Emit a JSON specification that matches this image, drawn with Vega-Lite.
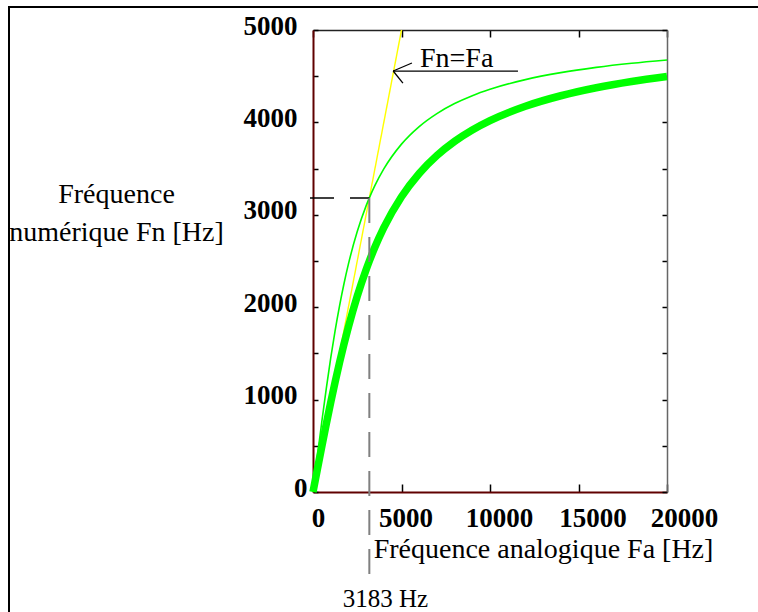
{
  "$schema": "https://vega.github.io/schema/vega-lite/v6.json",
  "width": 354,
  "height": 462,
  "autosize": {"type": "none"},
  "padding": {"left": 313, "top": 30, "right": 91, "bottom": 120},
  "background": "white",
  "config": {"view": {"stroke": null}, "axis": {"grid": false}},
  "datasets": {
    "identity": [{"fa": 0, "fn": 0}, {"fa": 5000, "fn": 5000}],
    "thin": [
      {"fa": 0, "fn": 0}, {"fa": 250, "fn": 387.4}, {"fa": 500, "fn": 763.7}, {"fa": 750, "fn": 1118.3},
      {"fa": 1000, "fn": 1448.4}, {"fa": 1250, "fn": 1747.2}, {"fa": 1500, "fn": 2015.3}, {"fa": 1750, "fn": 2253.9},
      {"fa": 2000, "fn": 2465.5}, {"fa": 2500, "fn": 2818.4}, {"fa": 3000, "fn": 3096.3}, {"fa": 3183, "fn": 3183},
      {"fa": 3500, "fn": 3317.5}, {"fa": 4000, "fn": 3496.3}, {"fa": 5000, "fn": 3764.8}, {"fa": 6000, "fn": 3954.9},
      {"fa": 7000, "fn": 4095.7}, {"fa": 8000, "fn": 4203.8}, {"fa": 9000, "fn": 4289.2}, {"fa": 10000, "fn": 4358.2},
      {"fa": 12000, "fn": 4463.0}, {"fa": 14000, "fn": 4538.6}, {"fa": 16000, "fn": 4595.6}, {"fa": 18000, "fn": 4640.1},
      {"fa": 20000, "fn": 4675.8}
    ],
    "thick": [
      {"fa": 0, "fn": 0}, {"fa": 250, "fn": 249.5}, {"fa": 500, "fn": 496.0}, {"fa": 750, "fn": 736.6},
      {"fa": 1000, "fn": 969.5}, {"fa": 1250, "fn": 1191.1}, {"fa": 1500, "fn": 1401.8}, {"fa": 2000, "fn": 1785.7},
      {"fa": 2500, "fn": 2119.2}, {"fa": 3000, "fn": 2405.8}, {"fa": 3183, "fn": 2500}, {"fa": 3500, "fn": 2650.8},
      {"fa": 4000, "fn": 2860.5}, {"fa": 5000, "fn": 3195.5}, {"fa": 6000, "fn": 3447.4}, {"fa": 7000, "fn": 3641.5},
      {"fa": 8000, "fn": 3794.6}, {"fa": 9000, "fn": 3917.9}, {"fa": 10000, "fn": 4019.0}, {"fa": 12000, "fn": 4174.6},
      {"fa": 14000, "fn": 4288.4}, {"fa": 16000, "fn": 4374.9}, {"fa": 18000, "fn": 4442.9}, {"fa": 20000, "fn": 4497.6}
    ],
    "marker": [{"fa": 3183, "fn": 3183, "origin": 0, "label": "3183 Hz"}],
    "arrow": [
      {"fa": 4530, "fn": 4556, "fa2": 11580, "fn2": 4556},
      {"fa": 4530, "fn": 4556, "fa2": 5590, "fn2": 4643},
      {"fa": 4530, "fn": 4556, "fa2": 5080, "fn2": 4426}
    ],
    "arrowLabel": [{"fa": 6045, "fn": 4600, "label": "Fn=Fa"}],
    "frame": [{"fa0": 0, "fa1": 20000, "fn0": 0, "fn1": 5000}]
  },
  "layer": [
    {
      "data": {"name": "identity"},
      "mark": {"type": "line", "color": "#ffff00", "strokeWidth": 1.4},
      "encoding": {
        "x": {
          "field": "fa", "type": "quantitative",
          "scale": {"domain": [0, 20000], "nice": false, "zero": false},
          "axis": {
            "orient": "bottom",
            "values": [0, 5000, 10000, 15000, 20000],
            "format": "d",
            "tickSize": -8, "tickColor": "black", "tickWidth": 1.5,
            "domainColor": "#600000", "domainWidth": 2,
            "labelFont": "Liberation Serif", "labelFontSize": 27, "labelFontWeight": "bold", "labelColor": "black",
            "labelBaseline": "alphabetic", "labelPadding": 42, "labelFlush": false, "labelOverlap": false,
            "labelOffset": {
              "condition": [
                {"test": "datum.value === 0", "value": 5},
                {"test": "datum.value === 5000", "value": 4},
                {"test": "datum.value === 10000", "value": 9},
                {"test": "datum.value === 15000", "value": 14}
              ],
              "value": 17
            },
            "title": "Fréquence analogique Fa [Hz]",
            "titleFont": "Liberation Serif", "titleFontSize": 28, "titleFontWeight": "normal", "titleColor": "black",
            "titleX": 230, "titleY": 65, "titleAlign": "center", "titleBaseline": "alphabetic"
          }
        },
        "y": {
          "field": "fn", "type": "quantitative",
          "scale": {"domain": [0, 5000], "nice": false, "zero": false},
          "axis": {
            "orient": "left",
            "values": [0, 500, 1000, 1500, 2000, 2500, 3000, 3500, 4000, 4500, 5000],
            "labelExpr": "datum.value % 1000 === 0 ? datum.value : ''",
            "tickSize": -5, "tickColor": "black", "tickWidth": 1.5,
            "domainColor": "#600000", "domainWidth": 2,
            "labelFont": "Liberation Serif", "labelFontSize": 27, "labelFontWeight": "bold", "labelColor": "black",
            "labelPadding": {"condition": {"test": "datum.value === 0", "value": 11}, "value": 21},
            "labelOffset": -4, "labelFlush": false, "labelOverlap": false,
            "title": ["Fréquence", "numérique Fn [Hz]"],
            "titleFont": "Liberation Serif", "titleFontSize": 28, "titleFontWeight": "normal", "titleColor": "black",
            "titleAngle": 0, "titleX": -197, "titleY": 172, "titleAlign": "center", "titleBaseline": "alphabetic",
            "titleLineHeight": 38
          }
        }
      }
    },
    {
      "data": {"name": "thin"},
      "mark": {"type": "line", "color": "#00ff00", "strokeWidth": 1.6, "interpolate": "monotone"},
      "encoding": {
        "x": {
          "field": "fa", "type": "quantitative",
          "axis": {
            "orient": "top", "values": [0, 5000, 10000, 15000, 20000], "labels": false, "title": null,
            "tickSize": -7, "tickColor": "black", "tickWidth": 1.5,
            "domainColor": "#222222", "domainWidth": 1.5
          }
        },
        "y": {
          "field": "fn", "type": "quantitative",
          "axis": {
            "orient": "right", "values": [0, 500, 1000, 1500, 2000, 2500, 3000, 3500, 4000, 4500, 5000],
            "labels": false, "title": null,
            "tickSize": -5, "tickColor": "black", "tickWidth": 1.5,
            "domainColor": "#666666", "domainWidth": 1.5
          }
        }
      }
    },
    {
      "data": {"name": "thick"},
      "mark": {"type": "line", "color": "#00ff00", "strokeWidth": 7.5, "interpolate": "monotone"},
      "encoding": {
        "x": {"field": "fa", "type": "quantitative", "axis": null},
        "y": {"field": "fn", "type": "quantitative", "axis": null}
      }
    },
    {
      "data": {"name": "marker"},
      "mark": {"type": "rule", "color": "black", "strokeWidth": 1.5, "strokeDash": [24, 16], "xOffset": -3},
      "encoding": {
        "x": {"field": "origin", "type": "quantitative", "axis": null},
        "x2": {"field": "fa"},
        "y": {"field": "fn", "type": "quantitative", "axis": null}
      }
    },
    {
      "data": {"name": "marker"},
      "mark": {"type": "rule", "color": "#808080", "strokeWidth": 2, "strokeDash": [25, 14], "y2Offset": 85},
      "encoding": {
        "x": {"field": "fa", "type": "quantitative", "axis": null},
        "y": {"field": "fn", "type": "quantitative", "axis": null},
        "y2": {"field": "origin"}
      }
    },
    {
      "data": {"name": "marker"},
      "mark": {"type": "text", "font": "Liberation Serif", "fontSize": 25, "color": "black", "align": "center", "baseline": "alphabetic", "dx": 16, "dy": 115},
      "encoding": {
        "x": {"field": "fa", "type": "quantitative", "axis": null},
        "y": {"field": "origin", "type": "quantitative", "axis": null},
        "text": {"field": "label"}
      }
    },
    {
      "data": {"name": "arrow"},
      "mark": {"type": "rule", "color": "black", "strokeWidth": 1.3},
      "encoding": {
        "x": {"field": "fa", "type": "quantitative", "axis": null},
        "x2": {"field": "fa2"},
        "y": {"field": "fn", "type": "quantitative", "axis": null},
        "y2": {"field": "fn2"}
      }
    },
    {
      "data": {"name": "arrowLabel"},
      "mark": {"type": "text", "font": "Liberation Serif", "fontSize": 28, "color": "black", "align": "left", "baseline": "alphabetic"},
      "encoding": {
        "x": {"field": "fa", "type": "quantitative", "axis": null},
        "y": {"field": "fn", "type": "quantitative", "axis": null},
        "text": {"field": "label"}
      }
    },
    {
      "data": {"name": "frame"},
      "mark": {"type": "rule", "color": "black", "strokeWidth": 2, "xOffset": -304, "x2Offset": 92, "yOffset": -23},
      "encoding": {
        "x": {"field": "fa0", "type": "quantitative", "axis": null},
        "x2": {"field": "fa1"},
        "y": {"field": "fn1", "type": "quantitative", "axis": null}
      }
    },
    {
      "data": {"name": "frame"},
      "mark": {"type": "rule", "color": "black", "strokeWidth": 2, "xOffset": -304, "yOffset": -24, "y2Offset": 121},
      "encoding": {
        "x": {"field": "fa0", "type": "quantitative", "axis": null},
        "y": {"field": "fn1", "type": "quantitative", "axis": null},
        "y2": {"field": "fn0"}
      }
    }
  ],
  "resolve": {"axis": {"x": "independent", "y": "independent"}}
}
